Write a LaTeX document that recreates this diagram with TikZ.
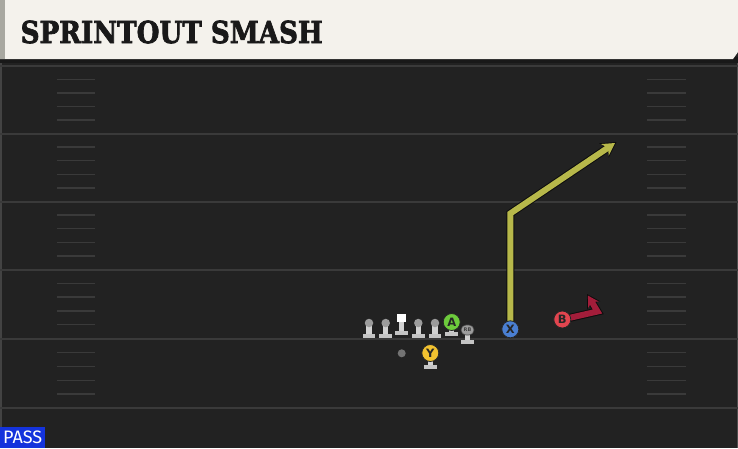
\documentclass[tikz,border=0pt]{standalone}
\usepackage{fontspec}
\setmainfont{DejaVu Sans}
\newfontfamily\titlefont{DejaVu Serif Bold}[FakeBold=2.5]
\newfontfamily\letterfont{DejaVu Sans Bold}
\newfontfamily\passfont{Fira Sans}
\usetikzlibrary{arrows.meta,calc,shapes.misc}
\definecolor{field}{HTML}{222222}
\definecolor{cream}{HTML}{F4F2EC}
\definecolor{hdrstrip}{HTML}{A8A8A0}
\definecolor{yardc}{HTML}{3A3A3A}
\definecolor{hashc}{HTML}{3A3A3A}
\definecolor{passblue}{HTML}{1433DC}
\definecolor{routey}{HTML}{B7B84A}
\definecolor{router}{HTML}{A31D3A}
\definecolor{stemc}{HTML}{D2D2D2}
\definecolor{basec}{HTML}{C4C4C4}
\definecolor{headc}{HTML}{9C9C9C}
\definecolor{pgreen}{HTML}{6DCB3C}
\definecolor{pyellow}{HTML}{F2C230}
\definecolor{pblue}{HTML}{4A7FD2}
\definecolor{pred}{HTML}{E2454F}
\tikzset{
  yard/.style={draw=yardc, line width=2pt},
  hash/.style={draw=hashc, line width=1.4pt},
  plyr/.style={circle, draw=black!85, line width=0.8pt, minimum size=17pt, inner sep=0pt,
    font=\letterfont\fontsize{11.5}{11.5}\selectfont, text=black!85},
  lhead/.style={circle, fill=headc, minimum size=8.5pt, inner sep=0pt},
  pics/stance/.style={code={
    \fill[stemc] (-2.7,0) rectangle (2.7,#1);
    \fill[basec] (-6.3,#1) rectangle (6.3,#1+4.3);}},
  routeout/.style={draw=black!95, line width=8pt, line join=miter},
  routein/.style={line width=6pt, line join=miter}
}
\begin{document}
\begin{tikzpicture}[x=1pt,y=-1pt]
\useasboundingbox (0,0) rectangle (738,448);
\fill[field] (0,0) rectangle (738,448);
\fill[field!80!white] (736.5,62) rectangle (738,448);
\fill[field!85!white] (0,62) rectangle (1.5,448);
% header
\fill[black!90] (0,57) rectangle (738,63);
\fill[cream] (0,0) -- (738,0) -- (738,52) -- (733,59) -- (0,59) -- cycle;
\fill[hdrstrip] (0,0) rectangle (4.5,59);
\node[anchor=west, inner sep=0pt, text=black!90] (title) at (20.5,32)
  {\resizebox{302pt}{22.5pt}{\titlefont SPRINTOUT SMASH}};
% yard lines
\foreach \y in {66,133.5,201.5,269.5,338.5,408}
  \draw[yard] (0,\y) -- (738,\y);
% hash marks
\foreach \a/\b in {66/133.5,133.5/201.5,201.5/269.5,269.5/338.5,338.5/408}
  \foreach \k in {1,2,3,4} {
    \draw[hash] (57,{\a+\k*(\b-\a)/5}) -- (95,{\a+\k*(\b-\a)/5});
    \draw[hash] (647,{\a+\k*(\b-\a)/5}) -- (686,{\a+\k*(\b-\a)/5});
  }
% pass label
\node[fill=passblue, text=white, inner sep=0pt, minimum width=45pt, minimum height=21pt,
  anchor=south west, font=\passfont\fontsize{18}{18}\selectfont] (pass) at (0,448) {PASS};
% route geometry
\coordinate (xcorner) at (510.3,213.5);
\coordinate (xtip) at (616.5,142);
\coordinate (bcorner) at (597.5,311.5);
\coordinate (btip) at (587,294);
\node[plyr, fill=pblue] (X) at (510.3,329.3) {};
\node[plyr, fill=pred] (B) at (562.3,319.5) {};
% routes
\draw[routeout, -{Stealth[length=15pt, width=17pt, inset=4.5pt]}] (X.center) -- (xcorner) -- (xtip);
\draw[routein, draw=routey, shorten >=1.8pt, -{Stealth[length=12pt, width=13.5pt, inset=3.5pt, fill=routey]}] (X.center) -- (xcorner) -- (xtip);
\draw[routeout, -{Stealth[length=13pt, width=15pt, inset=4pt]}] (B.center) -- (bcorner) -- (btip);
\draw[routein, draw=router, shorten >=1.8pt, -{Stealth[length=10.5pt, width=12pt, inset=3pt, fill=router]}] (B.center) -- (bcorner) -- (btip);
% X and B on top
\node[plyr, fill=pblue] at (X) {X};
\node[plyr, fill=pred] at (B) {B};
% linemen
\foreach \n/\x in {lt/369,lg/385.7,rg/418.3,rt/435} {
  \pic at (\x,324) {stance=10};
  \node[lhead] (\n) at (\x,323) {};
}
% center
\pic at (401.7,321) {stance=9.8};
\node[fill=white, minimum size=8.5pt, inner sep=0pt] (C) at (401.7,318) {};
% A
\pic at (451.7,328) {stance=4};
\node[plyr, fill=pgreen] (A) at (451.7,322) {A};
% RB
\pic at (467.5,333) {stance=6.5};
\node[rounded rectangle, fill=basec!80!black, draw=black!70, line width=0.6pt, minimum width=13pt,
  minimum height=10pt, inner sep=0pt, font=\letterfont\fontsize{5}{5}\selectfont, text=black!75] (RB) at (467.5,330) {RB};
% QB dot
\node[circle, fill=black!55, minimum size=8pt, inner sep=0pt] (QB) at (401.7,353.3) {};
% Y
\pic at (430.3,359) {stance=5.5};
\node[plyr, fill=pyellow] (Y) at (430.3,353) {Y};
\end{tikzpicture}
\end{document}
